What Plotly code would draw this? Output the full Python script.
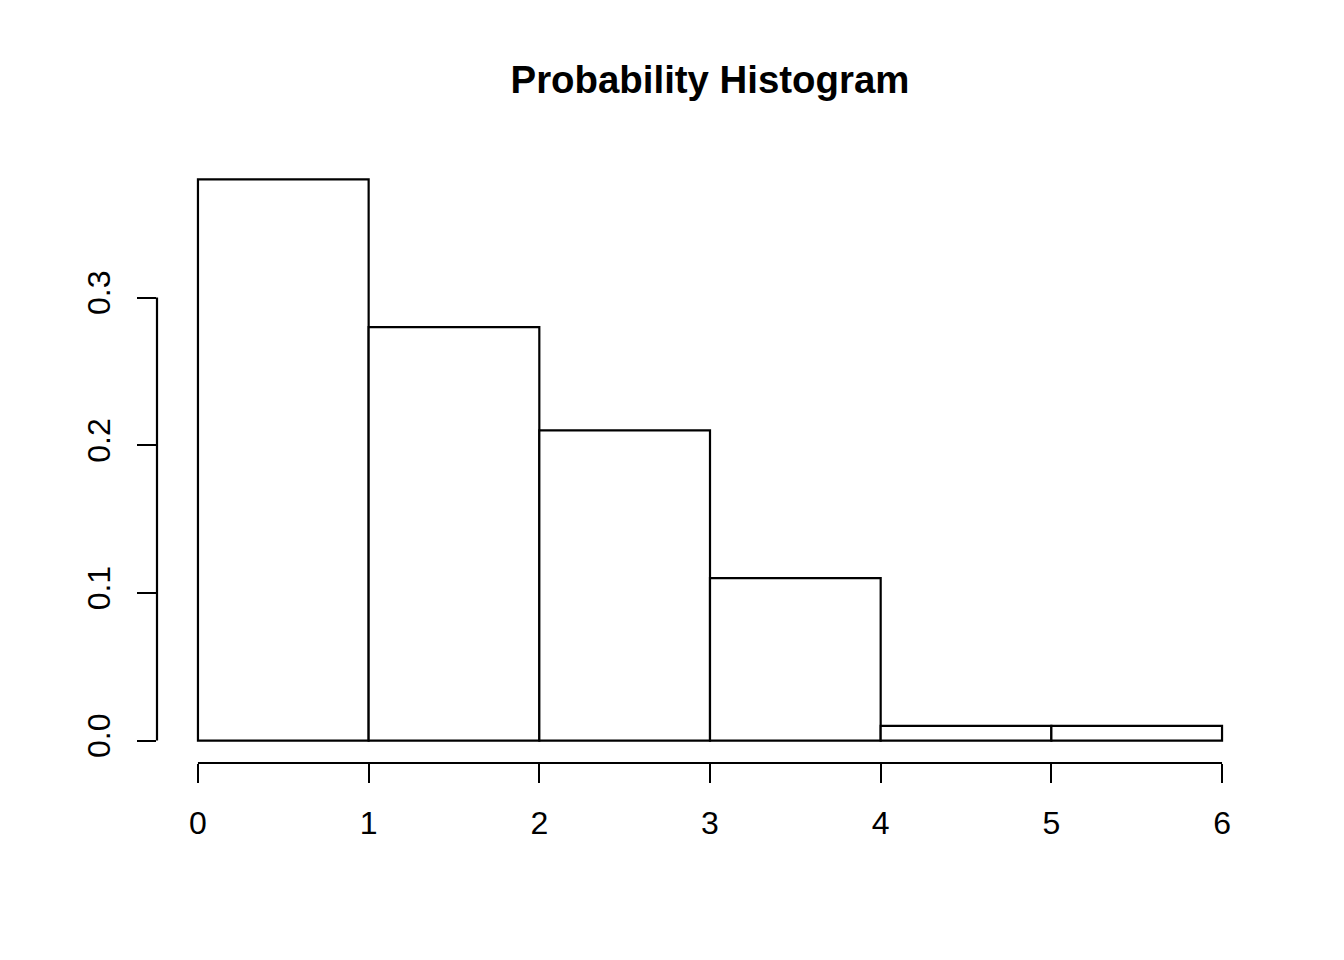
import plotly.graph_objects as go

bin_edges = [0, 1, 2, 3, 4, 5, 6]
probabilities = [0.38, 0.28, 0.21, 0.11, 0.01, 0.01]
x_ticks = [0, 1, 2, 3, 4, 5, 6]
y_ticks = [0.0, 0.1, 0.2, 0.3]
y_tick_labels = ["0.0", "0.1", "0.2", "0.3"]

mids = [(a + b) / 2 for a, b in zip(bin_edges[:-1], bin_edges[1:])]
widths = [b - a for a, b in zip(bin_edges[:-1], bin_edges[1:])]

FONT = "Liberation Sans, Arial, Helvetica, sans-serif"
LW = 2.2

fig = go.Figure(go.Bar(
    x=mids, y=probabilities, width=widths,
    marker=dict(color="white", line=dict(color="black", width=LW)),
    hoverinfo="skip",
))

span = bin_edges[-1] - bin_edges[0]
xr = [bin_edges[0] - 0.04 * span, bin_edges[-1] + 0.04 * span]
ymax = max(probabilities)
yr = [-0.04 * ymax, ymax * 1.04]

fig.update_layout(
    width=1344, height=960,
    margin=dict(l=149, r=89, t=149, b=205),
    paper_bgcolor="white", plot_bgcolor="white",
    showlegend=False,
    font=dict(family=FONT, size=32, color="black"),
    title=dict(text="<b>Probability Histogram</b>", x=0.5, xref="paper", xanchor="center",
               y=1 - 72 / 960, yref="container", yanchor="middle",
               font=dict(family=FONT, size=38.4, color="black")),
    xaxis=dict(range=xr, tickvals=x_ticks, ticktext=[str(v) for v in x_ticks],
               ticks="outside", ticklen=19, tickwidth=LW, tickcolor="black",
               showgrid=False, zeroline=False, showline=False,
               tickfont=dict(family=FONT, size=32, color="black"), ticklabelstandoff=13),
    yaxis=dict(range=yr, tickvals=y_ticks, ticktext=y_tick_labels, tickangle=-90,
               ticks="outside", ticklen=19, tickwidth=LW, tickcolor="black",
               showgrid=False, zeroline=False, showline=False,
               tickfont=dict(family=FONT, size=32, color="black"), ticklabelstandoff=14),
    shapes=[
        dict(type="line", xref="x", yref="paper", x0=x_ticks[0], x1=x_ticks[-1], y0=0, y1=0,
             line=dict(color="black", width=LW)),
        dict(type="line", xref="paper", yref="y", x0=0, x1=0, y0=y_ticks[0], y1=y_ticks[-1],
             line=dict(color="black", width=LW)),
    ],
)

fig.write_html("out.html")
